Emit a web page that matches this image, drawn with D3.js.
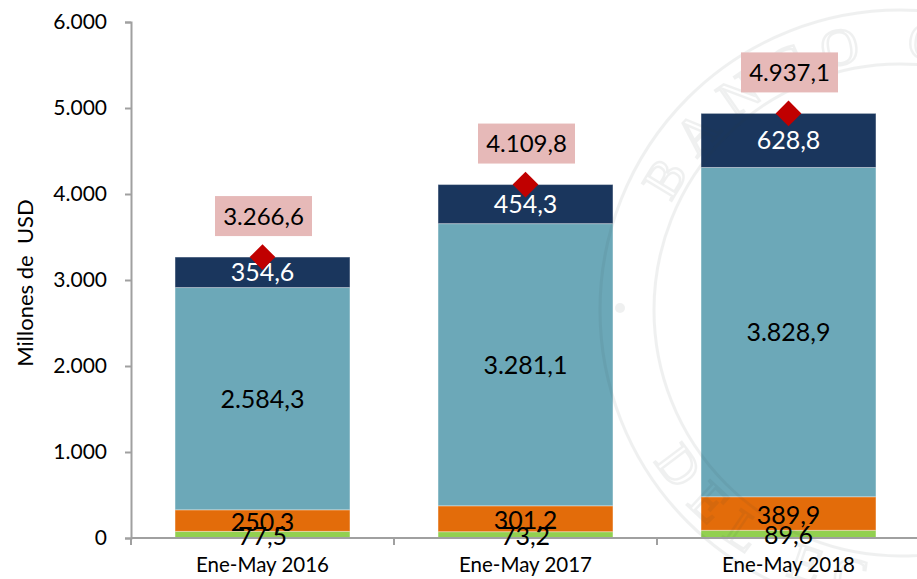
<!DOCTYPE html>
<html>
<head>
<meta charset="utf-8">
<script src="https://cdn.jsdelivr.net/npm/d3@7"></script>
<style>
  html, body { margin: 0; padding: 0; background: #fff; }
  svg { display: block; font-family: Lato, "Open Sans", sans-serif; }
</style>
</head>
<body>
<svg id="chart" width="917" height="579"></svg>
<script>
const categories = ["Ene-May 2016", "Ene-May 2017", "Ene-May 2018"];
const seriesNames = ["Verde", "Naranja", "Celeste", "Azul"];
const green  = [77.5, 73.2, 89.6];
const orange = [250.3, 301.2, 389.9];
const teal   = [2584.3, 3281.1, 3828.9];
const navy   = [354.6, 454.3, 628.8];
const totals = [3266.6, 4109.8, 4937.1];
const yTicks = [0, 1000, 2000, 3000, 4000, 5000, 6000];
const yTickLabels = ["0", "1.000", "2.000", "3.000", "4.000", "5.000", "6.000"];

(function () {
const colors = ["#92d050", "#e36c0a", "#6ca8b8", "#1a365d"];
const labelColors = ["#000", "#000", "#000", "#fff"];

const svg = d3.select("#chart");
const mLeft = 131, mRight = 920, mTop = 22, mBottom = 538;

const x = d3.scaleBand().domain(categories).range([mLeft, mRight])
  .paddingInner(0.335).paddingOuter(0.1675);
const y = d3.scaleLinear().domain([0, 6000]).range([mBottom, mTop]);

const fmt = v => {
  const s = v.toFixed(1).split(".");
  const intPart = s[0].replace(/\B(?=(\d{3})+(?!\d))/g, ".");
  return intPart + "," + s[1];
};

// faint watermark seal (behind)
const cx = 900, cy = 310;
const defs = svg.append("defs");
const a0 = 0.44, rTop = 252;
defs.append("path").attr("id", "arcTop")
  .attr("d", `M ${cx - rTop * Math.cos(a0)} ${cy - rTop * Math.sin(a0)} A ${rTop} ${rTop} 0 0 1 ${cx + rTop} ${cy}`);
const a1 = 0.55, rBot = 288;
defs.append("path").attr("id", "arcBot")
  .attr("d", `M ${cx - rBot * Math.cos(a1)} ${cy + rBot * Math.sin(a1)} A ${rBot} ${rBot} 0 0 0 ${cx} ${cy + rBot}`);

// stacked data
const rows = categories.map((c, i) => ({cat: c, s0: green[i], s1: orange[i], s2: teal[i], s3: navy[i]}));
const stacked = d3.stack().keys(["s0", "s1", "s2", "s3"])(rows);

const gBars = svg.append("g");
stacked.forEach((layer, li) => {
  gBars.selectAll(null).data(layer).enter().append("rect")
    .attr("x", d => x(d.data.cat))
    .attr("width", x.bandwidth())
    .attr("y", d => y(d[1]))
    .attr("height", d => y(d[0]) - y(d[1]))
    .attr("fill", colors[li])
    .attr("stroke", "#ffffff")
    .attr("stroke-opacity", 0.35)
    .attr("stroke-width", 1);
});

// watermark drawn faintly over the bars, like the reference
const wm = svg.append("g").attr("opacity", 0.07).attr("fill", "none").attr("stroke", "#2f3f3f").attr("stroke-width", 3);
[246, 300].forEach(r => wm.append("circle").attr("cx", cx).attr("cy", cy).attr("r", r));
wm.append("circle").attr("cx", 620).attr("cy", 308).attr("r", 5).attr("fill", "#2f3f3f").attr("stroke", "none");
const wmt = svg.append("g").attr("opacity", 0.07).attr("fill", "none").attr("stroke", "#2f3f3f").attr("stroke-width", 2.5)
  .attr("font-family", "'Liberation Serif', 'DejaVu Serif', serif");
wmt.append("text").attr("font-size", 52).attr("letter-spacing", 16)
  .append("textPath").attr("href", "#arcTop").text("BANCO CENTRAL");
wmt.append("text").attr("font-size", 52).attr("letter-spacing", 16)
  .append("textPath").attr("href", "#arcBot").text("DEL ECUADOR");

// axes
const axisColor = "#a0a0a0";
const yAxis = svg.append("g").attr("transform", `translate(${mLeft},0)`)
  .call(d3.axisLeft(y).tickValues(yTicks).tickFormat((d, i) => yTickLabels[i]).tickSize(6).tickPadding(18));
yAxis.select(".domain").attr("stroke", axisColor).attr("stroke-width", 2);
yAxis.selectAll(".tick line").attr("stroke", axisColor).attr("stroke-width", 2);
yAxis.selectAll(".tick text").attr("font-size", 21).attr("fill", "#000")
  .attr("font-family", "Lato, sans-serif");

const xAxisG = svg.append("g").attr("transform", `translate(0,${mBottom})`);
xAxisG.append("line").attr("x1", mLeft).attr("x2", mRight).attr("y1", 0).attr("y2", 0)
  .attr("stroke", axisColor).attr("stroke-width", 2);
const boundaries = [mLeft].concat(categories.map(c => x(c) + x.bandwidth() + x.step() * x.paddingInner() / 2));
xAxisG.selectAll("line.tk").data(boundaries).enter().append("line")
  .attr("class", "tk")
  .attr("x1", d => d).attr("x2", d => d).attr("y1", 0).attr("y2", 7)
  .attr("stroke", axisColor).attr("stroke-width", 2);
xAxisG.selectAll("text.cat").data(categories).enter().append("text")
  .attr("class", "cat")
  .attr("x", d => x(d) + x.bandwidth() / 2)
  .attr("y", 34)
  .attr("text-anchor", "middle")
  .attr("font-size", 20.5)
  .attr("fill", "#000")
  .text(d => d);

// y title
svg.append("text")
  .attr("transform", `translate(33,${(mTop + mBottom) / 2 + 3}) rotate(-90)`)
  .attr("text-anchor", "middle")
  .attr("font-size", 22)
  .attr("fill", "#000")
  .style("white-space", "pre")
  .text("Millones de  USD");

// segment labels
const gLabels = svg.append("g");
stacked.forEach((layer, li) => {
  gLabels.selectAll(null).data(layer).enter().append("text")
    .attr("x", d => x(d.data.cat) + x.bandwidth() / 2)
    .attr("y", d => (y(d[0]) + y(d[1])) / 2)
    .attr("dy", li < 2 ? "0.4em" : "0.36em")
    .attr("text-anchor", "middle")
    .attr("font-size", 25)
    .attr("fill", labelColors[li])
    .text(d => fmt(d[1] - d[0]));
});

// totals: diamond + pink label
const gTot = svg.append("g");
const diamond = d3.symbol().type(d3.symbolSquare).size(330);
gTot.selectAll("path").data(totals).enter().append("path")
  .attr("d", diamond)
  .attr("transform", (d, i) => `translate(${x(categories[i]) + x.bandwidth() / 2},${y(d)}) rotate(45)`)
  .attr("fill", "#c00000");
const boxW = 97, boxH = 40;
gTot.selectAll("rect").data(totals).enter().append("rect")
  .attr("x", (d, i) => x(categories[i]) + x.bandwidth() / 2 - boxW / 2 + 1)
  .attr("y", d => y(d) - 21 - boxH)
  .attr("width", boxW).attr("height", boxH)
  .attr("fill", "#e6b9b8");
gTot.selectAll("text").data(totals).enter().append("text")
  .attr("x", (d, i) => x(categories[i]) + x.bandwidth() / 2 + 1)
  .attr("y", d => y(d) - 21 - boxH / 2)
  .attr("dy", "0.36em")
  .attr("text-anchor", "middle")
  .attr("font-size", 24)
  .attr("fill", "#000")
  .text(d => fmt(d));
})();
</script>
</body>
</html>
